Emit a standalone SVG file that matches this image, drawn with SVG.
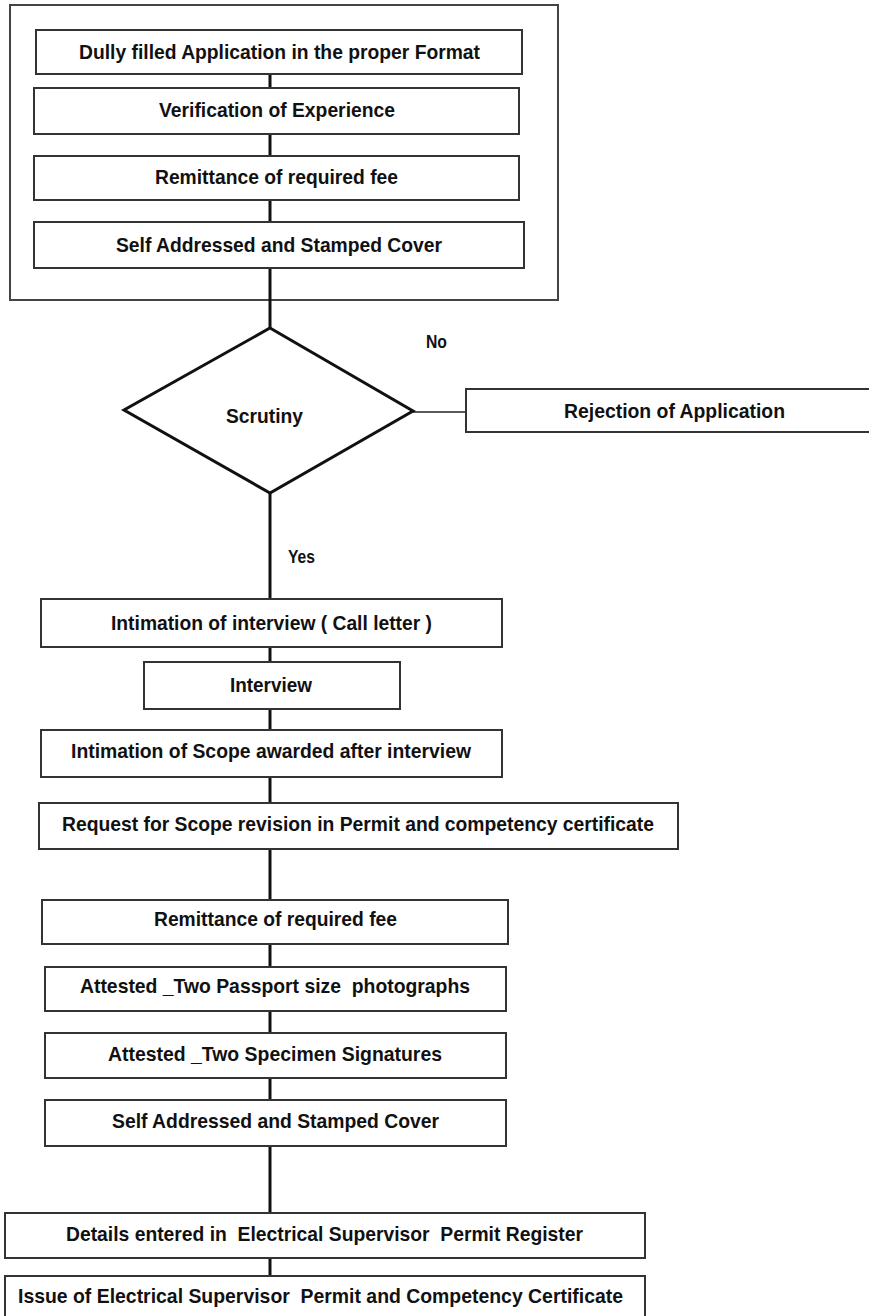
<svg xmlns="http://www.w3.org/2000/svg" width="869" height="1316" viewBox="0 0 869 1316">
<style>
.box{fill:#fff;stroke:#333;stroke-width:2}
.outer{fill:#fff;stroke:#444;stroke-width:2}
.dia{fill:#fff;stroke:#111;stroke-width:3;stroke-linejoin:miter}
.con{stroke:#111;stroke-width:3;fill:none}
.thin{stroke:#222;stroke-width:1.6;fill:none}
text{font-family:"Liberation Sans",Arial,sans-serif;font-weight:bold;font-size:21px;fill:#111;white-space:pre}
.lbl{font-size:18px}
</style>
<rect width="869" height="1316" fill="#fff"/>
<g id="group-requirements">
<rect class="outer" x="10" y="5" width="548" height="295"/>
</g>
<g id="connectors">
<line class="con" x1="270" y1="74" x2="270" y2="88"/>
<line class="con" x1="270" y1="134" x2="270" y2="156"/>
<line class="con" x1="270" y1="200" x2="270" y2="222"/>
<line class="con" x1="270" y1="268" x2="270" y2="328"/>
<line class="con" x1="270" y1="493" x2="270" y2="599"/>
<line class="con" x1="270" y1="647" x2="270" y2="662"/>
<line class="con" x1="270" y1="709" x2="270" y2="730"/>
<line class="con" x1="270" y1="777" x2="270" y2="803"/>
<line class="con" x1="270" y1="849" x2="270" y2="900"/>
<line class="con" x1="270" y1="944" x2="270" y2="967"/>
<line class="con" x1="270" y1="1011" x2="270" y2="1033"/>
<line class="con" x1="270" y1="1078" x2="270" y2="1100"/>
<line class="con" x1="270" y1="1146" x2="270" y2="1213"/>
<line class="con" x1="270" y1="1258" x2="270" y2="1276"/>
<line class="thin" x1="413" y1="412" x2="466" y2="412"/>
<text class="lbl" x="426" y="348" textLength="21" lengthAdjust="spacingAndGlyphs">No</text>
<text class="lbl" x="288" y="563" textLength="27" lengthAdjust="spacingAndGlyphs">Yes</text>
</g>
<g id="n1"><rect class="box" x="36" y="30" width="486" height="44"/>
<text x="79" y="59" textLength="401" lengthAdjust="spacingAndGlyphs">Dully filled Application in the proper Format</text></g>
<g id="n2"><rect class="box" x="34" y="88" width="485" height="46"/>
<text x="159" y="117" textLength="236" lengthAdjust="spacingAndGlyphs">Verification of Experience</text></g>
<g id="n3"><rect class="box" x="34" y="156" width="485" height="44"/>
<text x="155" y="184" textLength="243" lengthAdjust="spacingAndGlyphs">Remittance of required fee</text></g>
<g id="n4"><rect class="box" x="34" y="222" width="490" height="46"/>
<text x="116" y="252" textLength="326" lengthAdjust="spacingAndGlyphs">Self Addressed and Stamped Cover</text></g>
<g id="scrutiny"><polygon class="dia" points="270,328 413,411 270,493 124,410"/>
<text x="226" y="423" textLength="77" lengthAdjust="spacingAndGlyphs">Scrutiny</text></g>
<g id="rejection"><rect class="box" x="466" y="389" width="410" height="43"/>
<text x="564" y="418" textLength="221" lengthAdjust="spacingAndGlyphs">Rejection of Application</text></g>
<g id="n5"><rect class="box" x="41" y="599" width="461" height="48"/>
<text x="111" y="630" textLength="321" lengthAdjust="spacingAndGlyphs">Intimation of interview ( Call letter )</text></g>
<g id="n6"><rect class="box" x="144" y="662" width="256" height="47"/>
<text x="230" y="692" textLength="82" lengthAdjust="spacingAndGlyphs">Interview</text></g>
<g id="n7"><rect class="box" x="41" y="730" width="461" height="47"/>
<text x="71" y="758" textLength="400" lengthAdjust="spacingAndGlyphs">Intimation of Scope awarded after interview</text></g>
<g id="n8"><rect class="box" x="39" y="803" width="639" height="46"/>
<text x="62" y="831" textLength="592" lengthAdjust="spacingAndGlyphs">Request for Scope revision in Permit and competency certificate</text></g>
<g id="n9"><rect class="box" x="42" y="900" width="466" height="44"/>
<text x="154" y="926" textLength="243" lengthAdjust="spacingAndGlyphs">Remittance of required fee</text></g>
<g id="n10"><rect class="box" x="45" y="967" width="461" height="44"/>
<text x="80" y="993" textLength="390" lengthAdjust="spacingAndGlyphs">Attested _Two Passport size  photographs</text></g>
<g id="n11"><rect class="box" x="45" y="1033" width="461" height="45"/>
<text x="108" y="1061" textLength="334" lengthAdjust="spacingAndGlyphs">Attested _Two Specimen Signatures</text></g>
<g id="n12"><rect class="box" x="45" y="1100" width="461" height="46"/>
<text x="112" y="1128" textLength="327" lengthAdjust="spacingAndGlyphs">Self Addressed and Stamped Cover</text></g>
<g id="n13"><rect class="box" x="5" y="1213" width="640" height="45"/>
<text x="66" y="1241" textLength="517" lengthAdjust="spacingAndGlyphs">Details entered in  Electrical Supervisor  Permit Register</text></g>
<g id="n14"><rect class="box" x="5" y="1276" width="640" height="54"/>
<text x="18" y="1303" textLength="605" lengthAdjust="spacingAndGlyphs">Issue of Electrical Supervisor  Permit and Competency Certificate</text></g>
</svg>
